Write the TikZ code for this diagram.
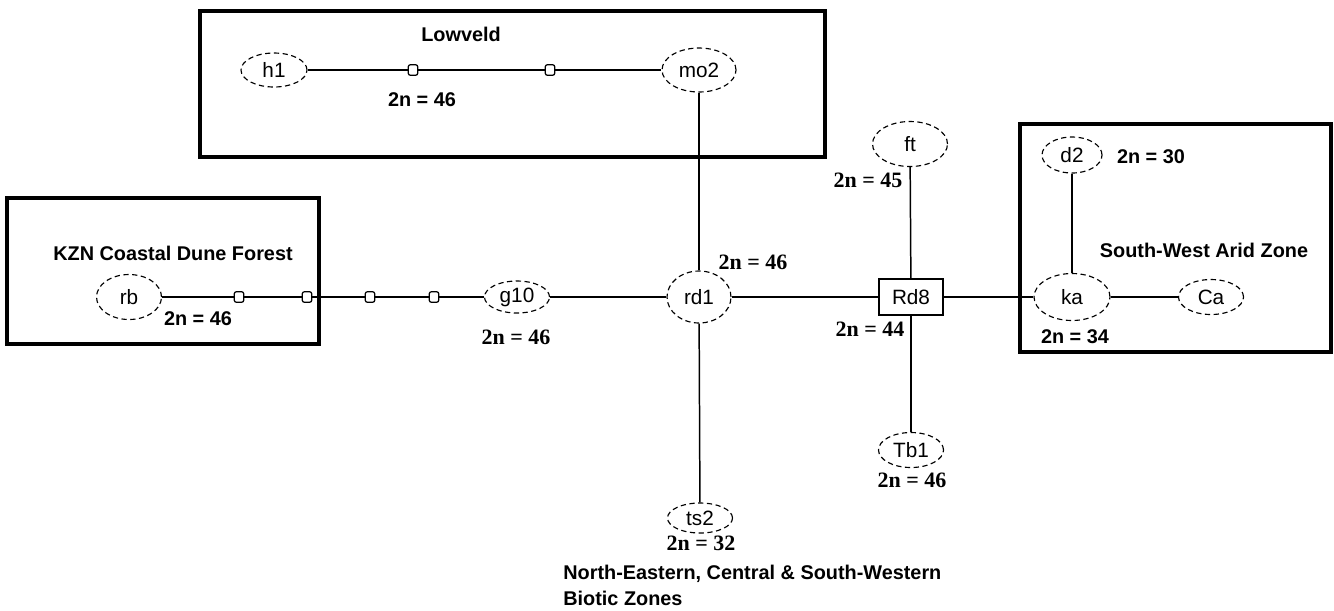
\documentclass[tikz,border=0pt]{standalone}
\usepackage{fontspec}
\setmainfont{Liberation Serif}
\newfontfamily\lsans{Liberation Sans}
\usetikzlibrary{shapes.geometric}
\tikzset{
  ell/.style 2 args={ellipse, draw, densely dashed, line width=0.65pt, inner sep=0pt,
     minimum width=#1*0.02cm, minimum height=#2*0.02cm,
     font=\lsans\fontsize{11.8}{14}\selectfont},
  rbox/.style={rectangle, draw, solid, line width=0.8pt, inner sep=0pt,
     minimum width=64*0.02cm, minimum height=36*0.02cm,
     font=\lsans\fontsize{11.8}{14}\selectfont},
  mk/.style={rectangle, draw, solid, fill=white, line width=0.7pt, rounded corners=1.2pt,
     inner sep=0pt, minimum width=0.19cm, minimum height=0.21cm},
  link/.style={line width=0.85pt},
  zonebox/.style={line width=2pt},
  zone/.style={font=\lsans\bfseries\fontsize{11.3}{14.7}\selectfont, inner sep=0pt},
  cnts/.style={font=\lsans\bfseries\fontsize{11.3}{14}\selectfont, inner sep=0pt},
  cnt/.style={font=\bfseries\fontsize{12.5}{15}\selectfont, inner sep=0pt}
}
\begin{document}
\begin{tikzpicture}[x=0.02cm, y=-0.02cm]
\useasboundingbox (0,0) rectangle (1334,610);
\fill[white] (0,0) rectangle (1334,610);

% zone boxes
\draw[zonebox] (200,11) rectangle (825,157);
\draw[zonebox] (7,198) rectangle (319,344);
\draw[zonebox] (1020,124) rectangle (1331,352);

% zone labels
\node[zone] (lowveld) at (461,34) {Lowveld};
\node[zone] (kzn) at (173,253) {KZN Coastal Dune Forest};
\node[zone] (swaz) at (1204,250) {South-West Arid Zone};
\node[zone, align=left, anchor=north west] (nec) at (563,565)
  {North-Eastern, Central \& South-Western\\Biotic Zones};

% nodes
\node[ell={66}{34}] (h1) at (274,70) {h1};
\node[ell={74}{44}] (mo2) at (699,70) {mo2};
\node[ell={65}{45}] (rb) at (129,297) {rb};
\node[ell={65}{32}] (g10) at (517,297) {g10};
\node[ell={64}{52}] (rd1) at (699,297) {rd1};
\node[rbox] (rd8) at (911,297) {Rd8};
\node[ell={75}{45}] (ft) at (910,144) {ft};
\node[ell={65}{35}] (tb1) at (911,450) {Tb1};
\node[ell={65}{30}] (ts2) at (700,518) {ts2};
\node[ell={60}{36}] (d2) at (1072,155) {d2};
\node[ell={76}{47}] (ka) at (1072,297) {ka};
\node[ell={65}{35}] (ca) at (1211,297) {Ca};

% markers
\node[mk] (l1) at (413,70) {};
\node[mk] (l2) at (550,70) {};
\node[mk] (k1) at (239,297) {};
\node[mk] (k2) at (307,297) {};
\node[mk] (k3) at (370,297) {};
\node[mk] (k4) at (434,297) {};

% connectors
\draw[link] (h1) -- (l1) -- (l2) -- (mo2);
\draw[link] (rb) -- (k1) -- (k2) -- (k3) -- (k4) -- (g10);
\draw[link] (g10) -- (rd1);
\draw[link] (mo2) -- (rd1);
\draw[link] (rd1) -- (ts2);
\draw[link] (rd1) -- (rd8);
\draw[link] (rd8) -- (ft);
\draw[link] (rd8) -- (tb1);
\draw[link] (rd8) -- (ka);
\draw[link] (d2) -- (ka);
\draw[link] (ka) -- (ca);

% chromosome counts
\node[cnts] (c1) at (422,100) {2n = 46};
\node[cnts] (c2) at (198,319) {2n = 46};
\node[cnt] (c3) at (516,337) {2n = 46};
\node[cnt] (c4) at (753,262) {2n = 46};
\node[cnt] (c5) at (870,329) {2n = 44};
\node[cnt] (c6) at (868,180) {2n = 45};
\node[cnt] (c7) at (912,480) {2n = 46};
\node[cnt] (c8) at (701,543) {2n = 32};
\node[cnts] (c9) at (1151,157) {2n = 30};
\node[cnts] (c10) at (1075,337) {2n = 34};
\end{tikzpicture}
\end{document}
